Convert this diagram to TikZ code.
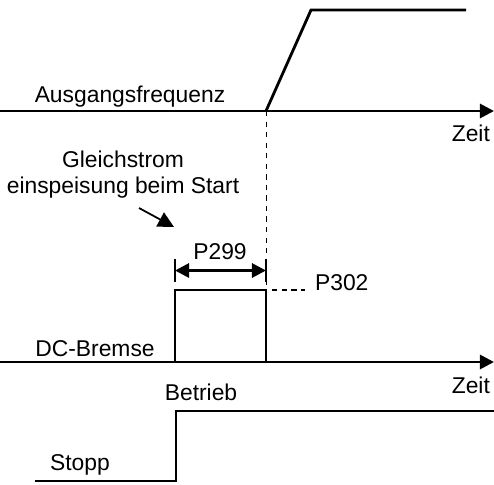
\documentclass[tikz,border=0pt]{standalone}
\usepackage{fontspec}
\setmainfont{Liberation Sans}
\usetikzlibrary{arrows.meta,positioning,calc}

\begin{document}
\begin{tikzpicture}[x=0.02cm,y=-0.02cm,>={Triangle[length=8pt,width=8pt]},
 font=\fontsize{13}{14.8}\selectfont,
 sig/.style={line width=1.6pt},
 lbl/.style={inner sep=1pt}]
\useasboundingbox (0,0) rectangle (494,484);
% Ausgangsfrequenz
\coordinate (a0) at (0,111);
\coordinate (a1) at (494,111);
\coordinate (r0) at (266,111);
\coordinate (r1) at (311,10);
\coordinate (r2) at (466,10);
\draw[sig,->] (a0) -- (a1);
\draw[sig] (r0) -- (r1) -- (r2);
\node[lbl] (af) at (130,97) {Ausgangsfrequenz};
\node[lbl,anchor=east] (z1) at (492,133) {Zeit};
% DC-Bremse
\coordinate (b0) at (0,362);
\coordinate (b1) at (494,362);
\coordinate (p0) at (175,362);
\coordinate (p1) at (175,290);
\coordinate (p2) at (266,290);
\coordinate (p3) at (266,362);
\draw[sig,->] (b0) -- (b1);
\draw[sig] (p0) -- (p1) -- (p2) -- (p3);
\draw[dashed,thin] (r0) -- (p2);
\node[lbl] (dc) at (95,349) {DC-Bremse};
\node[lbl,anchor=east] (z2) at (492,385) {Zeit};
% P299
\coordinate (m0) at (175,259);
\coordinate (m1) at (175,282);
\coordinate (m2) at (266,259);
\coordinate (m3) at (266,282);
\draw[sig] (m0) -- (m1);
\draw[sig] (m2) -- (m3);
\draw[sig,<->] ($(m0)!0.5!(m1)$) -- ($(m2)!0.5!(m3)$);
\node[lbl] (p299) at (220,252) {P299};
% P302
\coordinate (d0) at (272,290);
\coordinate (d1) at (305,290);
\draw[line width=1pt,dash pattern=on 3pt off 2.5pt] (d0) -- (d1);
\node[lbl,anchor=west] (p302) at (313,283) {P302};
% Gleichstrom
\node[lbl,align=center] (gs) at (123,175) {Gleichstrom\\einspeisung beim Start};
\coordinate (g0) at (139,208);
\coordinate (g1) at (174,227);
\draw[line width=1pt,-{Triangle[length=9pt,width=9pt]}] (g0) -- (g1);
% Betrieb / Stopp
\coordinate (s0) at (35,481);
\coordinate (s1) at (176,481);
\coordinate (s2) at (176,411);
\coordinate (s3) at (494,411);
\draw[sig] (s0) -- (s1) -- (s2) -- (s3);
\node[lbl] (bt) at (201,392) {Betrieb};
\node[lbl] (st) at (80,465) {Stopp};
\end{tikzpicture}
\end{document}
